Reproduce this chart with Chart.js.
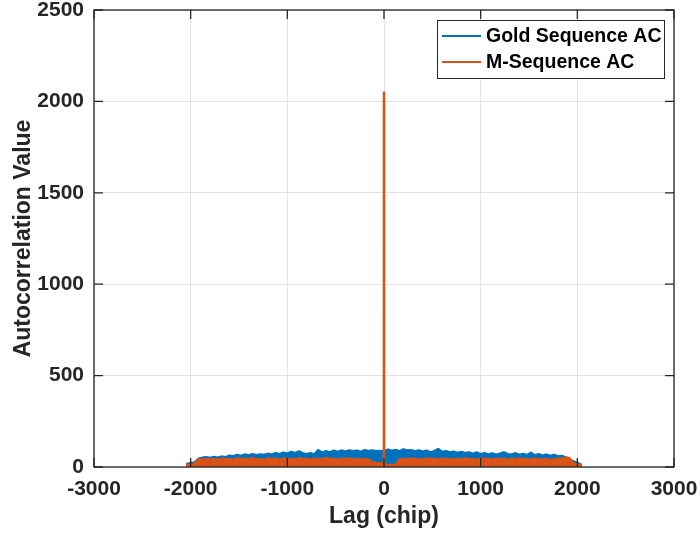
<!DOCTYPE html>
<html>
<head>
<meta charset="utf-8">
<title>Gold vs M-Sequence Autocorrelation</title>
<script src="https://cdn.jsdelivr.net/npm/chart.js@4.4.1/dist/chart.umd.min.js"></script>
<style>
  html, body { margin: 0; padding: 0; background: #fff; }
  canvas { display: block; }
</style>
</head>
<body>
<canvas id="chart" width="700" height="533"></canvas>
<script>
// lag grid (chips), shared by both sequences
const lags = [
  -2047,
  -2000, -1960, -1920, -1880, -1840, -1800, -1760, -1720, -1680, -1640,
  -1600, -1560, -1520, -1480, -1440, -1400, -1360, -1320, -1280, -1240,
  -1200, -1160, -1120, -1080, -1040, -1000, -960, -920, -880, -840,
  -800, -760, -720, -680, -640, -600, -560, -520, -480, -440,
  -400, -360, -320, -280, -240, -200, -160, -120, -80, -40,
  0, 40, 80, 120, 160, 200, 240, 280, 320, 360,
  400, 440, 480, 520, 560, 600, 640, 680, 720, 760,
  800, 840, 880, 920, 960, 1000, 1040, 1080, 1120, 1160,
  1200, 1240, 1280, 1320, 1360, 1400, 1440, 1480, 1520, 1560,
  1600, 1640, 1680, 1720, 1760, 1800, 1840, 1880, 1920, 1960,
  2000,
  2047
];

// peak autocorrelation magnitude around each lag
const goldAC = [
  14,
  22, 24, 45, 50, 53, 49, 55, 51, 57, 53,
  62, 58, 66, 60, 68, 63, 70, 64, 69, 66,
  72, 67, 75, 70, 78, 73, 82, 76, 85, 74,
  70, 76, 68, 92, 78, 86, 80, 89, 82, 90,
  84, 91, 86, 89, 83, 92, 87, 90, 86, 88,
  85, 95, 88, 93, 86, 96, 90, 92, 85, 91,
  84, 89, 80, 87, 98, 82, 86, 79, 84, 77,
  82, 75, 80, 72, 79, 70, 76, 68, 74, 67,
  73, 80, 70, 68, 75, 66, 71, 64, 78, 63,
  70, 62, 68, 60, 66, 58, 60, 52, 38, 30,
  22,
  10
];

const mSeqAC = [
  10,
  14, 16, 42, 38, 45, 40, 44, 39, 46, 41,
  44, 38, 47, 42, 45, 40, 48, 41, 44, 39,
  46, 42, 45, 39, 47, 43, 44, 40, 48, 42,
  45, 39, 46, 41, 44, 49, 42, 45, 40, 46,
  43, 47, 41, 45, 39, 44, 40, 26, 22, 20,
  2047, 12, 10, 14, 40, 45, 41, 46, 42, 44,
  39, 47, 43, 45, 40, 46, 42, 44, 38, 45,
  41, 47, 42, 44, 39, 46, 43, 45, 40, 44,
  42, 46, 39, 45, 41, 47, 43, 44, 40, 45,
  42, 40, 44, 38, 41, 45, 43, 52, 48, 20,
  14,
  8
];

// samples right beside the main lobe of the m-sequence
const mPeakSideLags = [-1, 1];
const mPeakSideValues = [18, 9];

const xTicks = [-3000, -2000, -1000, 0, 1000, 2000, 3000];
const yTicks = [0, 500, 1000, 1500, 2000, 2500];

const seriesNames = ['Gold Sequence AC', 'M-Sequence AC'];
const seriesColors = ['#0072BD', '#D95319'];

const FONT = "'Liberation Sans', Arial, Helvetica, sans-serif";
const AXIS_COLOR = '#262626';
const TICK_LEN = 9;

Chart.defaults.font.family = FONT;

const goldData = lags.map((l, i) => ({ x: l, y: goldAC[i] }));
const mData = lags.map((l, i) => ({ x: l, y: mSeqAC[i] }))
  .concat(mPeakSideLags.map((l, i) => ({ x: l, y: mPeakSideValues[i] })))
  .sort((a, b) => a.x - b.x);

// full box with inward tick marks on all four sides
const axesBox = {
  id: 'axesBox',
  afterDatasetsDraw(chart) {
    const { ctx, chartArea: a, scales: { x, y } } = chart;
    ctx.save();
    ctx.strokeStyle = AXIS_COLOR;
    ctx.lineWidth = 1.3;
    ctx.strokeRect(a.left, a.top, a.right - a.left, a.bottom - a.top);
    ctx.beginPath();
    xTicks.forEach((v) => {
      const px = x.getPixelForValue(v);
      ctx.moveTo(px, a.bottom); ctx.lineTo(px, a.bottom - TICK_LEN);
      ctx.moveTo(px, a.top); ctx.lineTo(px, a.top + TICK_LEN);
    });
    yTicks.forEach((v) => {
      const py = y.getPixelForValue(v);
      ctx.moveTo(a.left, py); ctx.lineTo(a.left + TICK_LEN, py);
      ctx.moveTo(a.right, py); ctx.lineTo(a.right - TICK_LEN, py);
    });
    ctx.stroke();
    ctx.restore();
  }
};

// boxed legend in the upper right corner of the plot
const legendBox = {
  id: 'legendBox',
  afterDraw(chart) {
    const { ctx, chartArea: a } = chart;
    const w = 227, h = 58;
    const bx = a.right - 10 - w;
    const by = a.top + 10;
    ctx.save();
    ctx.fillStyle = '#fff';
    ctx.fillRect(bx, by, w, h);
    ctx.strokeStyle = AXIS_COLOR;
    ctx.lineWidth = 1;
    ctx.strokeRect(bx + 0.5, by + 0.5, w, h);
    ctx.font = 'bold 19.5px ' + FONT;
    ctx.textBaseline = 'middle';
    ctx.fillStyle = '#000';
    seriesNames.forEach((name, i) => {
      const ry = by + 16 + i * 26;
      ctx.strokeStyle = seriesColors[i];
      ctx.lineWidth = 2;
      ctx.beginPath();
      ctx.moveTo(bx + 5, ry);
      ctx.lineTo(bx + 44, ry);
      ctx.stroke();
      ctx.fillText(name, bx + 49, ry + 1);
    });
    ctx.restore();
  }
};

const plainNumber = (v) => String(v);

new Chart(document.getElementById('chart'), {
  type: 'line',
  data: {
    datasets: [
      {
        label: seriesNames[0],
        data: goldData,
        borderColor: seriesColors[0],
        backgroundColor: seriesColors[0],
        fill: 'origin',
        borderWidth: 2.5,
        borderJoinStyle: 'round',
        pointRadius: 0,
        tension: 0,
        order: 1
      },
      {
        label: seriesNames[1],
        data: mData,
        borderColor: seriesColors[1],
        backgroundColor: seriesColors[1],
        fill: 'origin',
        borderWidth: 2.5,
        borderJoinStyle: 'round',
        pointRadius: 0,
        tension: 0,
        order: 0
      }
    ]
  },
  options: {
    responsive: false,
    animation: false,
    layout: { padding: { top: 10, right: 26, left: 0, bottom: 0 } },
    plugins: {
      legend: { display: false },
      tooltip: { enabled: false }
    },
    scales: {
      x: {
        type: 'linear',
        min: -3000,
        max: 3000,
        afterBuildTicks: (s) => { s.ticks = xTicks.map((v) => ({ value: v })); },
        afterFit: (s) => {
          s.height = 66;
          s.paddingLeft = 0;
          s.paddingRight = 0;
        },
        ticks: {
          color: AXIS_COLOR,
          font: { size: 21, weight: 'bold' },
          padding: 10,
          maxRotation: 0,
          callback: plainNumber
        },
        grid: { color: '#e2e2e2', lineWidth: 1, drawTicks: false },
        border: { display: false },
        title: {
          display: true,
          text: 'Lag (chip)',
          color: AXIS_COLOR,
          font: { size: 23, weight: 'bold' },
          padding: { top: 0, bottom: 3 }
        }
      },
      y: {
        type: 'linear',
        min: 0,
        max: 2500,
        afterBuildTicks: (s) => { s.ticks = yTicks.map((v) => ({ value: v })); },
        afterFit: (s) => {
          s.width = 94;
          s.paddingTop = 0;
          s.paddingBottom = 0;
        },
        ticks: {
          color: AXIS_COLOR,
          font: { size: 21, weight: 'bold' },
          padding: 10,
          callback: plainNumber
        },
        grid: { color: '#e2e2e2', lineWidth: 1, drawTicks: false },
        border: { display: false },
        title: {
          display: true,
          text: 'Autocorrelation Value',
          color: AXIS_COLOR,
          font: { size: 23, weight: 'bold' },
          padding: { top: 10, bottom: 0 }
        }
      }
    }
  },
  plugins: [axesBox, legendBox]
});
</script>
</body>
</html>
